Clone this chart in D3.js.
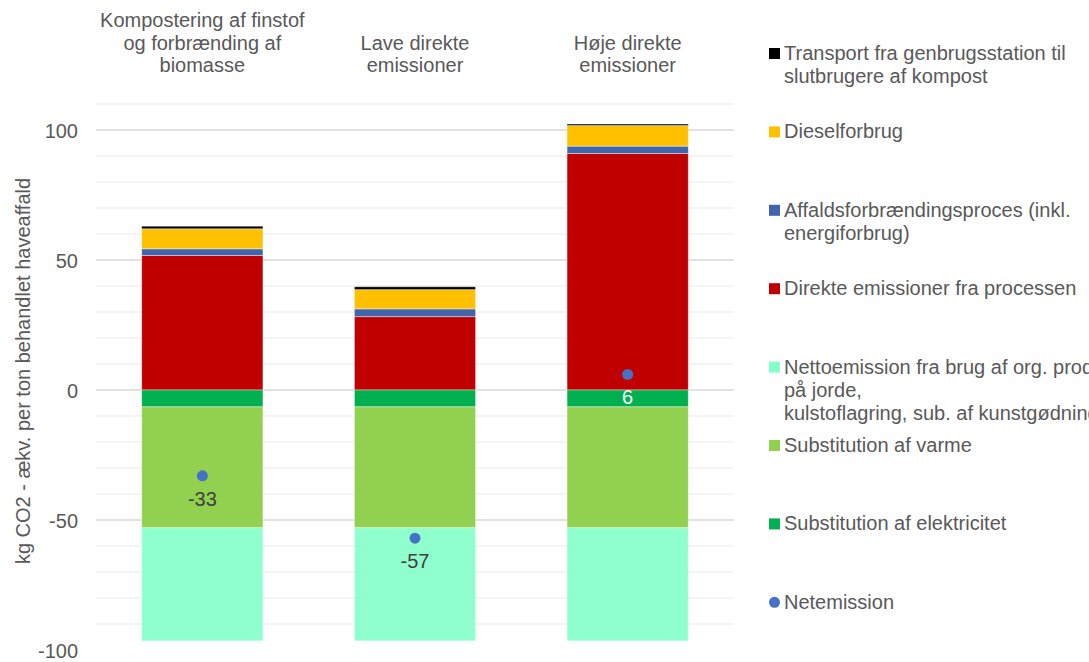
<!DOCTYPE html>
<html>
<head>
<meta charset="utf-8">
<title>Haveaffald - CO2</title>
<style>
    body { margin: 0; background: #ffffff; }
    svg { font-family: "Liberation Sans", Arial, sans-serif; }
    .tick text { fill: #595959; font-size: 20px; }
</style>
</head>
<body>
<script src="https://cdn.jsdelivr.net/npm/d3@7/dist/d3.min.js"></script>
<script>
// categories (lines of each label)
var categories = ["komp", "lave", "hoje"];
var categoryLines = [
    ["Kompostering af finstof", "og forbrænding af", "biomasse"],
    ["Lave direkte", "emissioner"],
    ["Høje direkte", "emissioner"]
];

// series, in legend order (top to bottom)
var seriesNames = [
    "Transport fra genbrugsstation til slutbrugere af kompost",
    "Dieselforbrug",
    "Affaldsforbrændingsproces (inkl. energiforbrug)",
    "Direkte emissioner fra processen",
    "Nettoemission fra brug af org. produkter på jorde, kulstoflagring, sub. af kunstgødning",
    "Substitution af varme",
    "Substitution af elektricitet"
];
var legendLines = [
    ["Transport fra genbrugsstation til", "slutbrugere af kompost"],
    ["Dieselforbrug"],
    ["Affaldsforbrændingsproces (inkl.", "energiforbrug)"],
    ["Direkte emissioner fra processen"],
    ["Nettoemission fra brug af org. produkter", "på jorde,", "kulstoflagring, sub. af kunstgødning"],
    ["Substitution af varme"],
    ["Substitution af elektricitet"],
    ["Netemission"]
];
var seriesColors = ["#000000", "#FFC000", "#4165AD", "#C00000", "#84FFC9", "#92D050", "#00B050"];

// values per series, per category
var transport   = [1.0, 1.1, 0.6];
var diesel      = [7.7, 7.4, 7.9];
var affald      = [2.6, 3.0, 2.8];
var direkte     = [51.7, 28.2, 91.0];
var nettoJord   = [-43.5, -43.5, -43.5];
var varme       = [-46.5, -46.5, -46.5];
var elektricitet = [-6.5, -6.5, -6.5];
var netemission = [-33, -57, 6];

var yTicks = [100, 50, 0, -50, -100];

var width = 1089, height = 662;
var svg = d3.select("body").append("svg")
    .attr("width", width)
    .attr("height", height);

var x = d3.scaleBand().domain(categories).range([96, 734]).paddingInner(0.43).paddingOuter(0.215);
var y = d3.scaleLinear().domain([-100, 110]).range([650, 104]);
var plotBottom = 644;

// gridlines (minor each 10, major each 50)
var grid = d3.range(-90, 111, 10);
svg.append("g").selectAll("line").data(grid).enter().append("line")
    .attr("x1", 96).attr("x2", 734)
    .attr("y1", function(d) { return y(d); })
    .attr("y2", function(d) { return y(d); })
    .attr("stroke", function(d) { return d % 50 === 0 ? "#d9d9d9" : "#f0f0f0"; })
    .attr("stroke-width", 1.3);

// y axis (labels only)
var yAxis = svg.append("g")
    .attr("transform", "translate(80,0)")
    .call(d3.axisLeft(y).tickValues(yTicks).tickSize(0).tickPadding(2)
        .tickFormat(function(d) { return String(d); }));
yAxis.select(".domain").remove();
yAxis.selectAll("text").attr("dy", "0.35em");

svg.append("text")
    .attr("transform", "translate(30,371) rotate(-90)")
    .attr("text-anchor", "middle")
    .attr("fill", "#595959")
    .style("font-size", "20px")
    .text("kg CO2 - ækv. per ton behandlet haveaffald");

// stack positives up from 0, negatives down from 0
var table = categories.map(function(c, i) {
    return {
        cat: c,
        values: [transport[i], diesel[i], affald[i], direkte[i], nettoJord[i], varme[i], elektricitet[i]]
    };
});
// stacking order from zero outwards
var stackOrder = [3, 2, 1, 0, 6, 5, 4];
var segments = [];
table.forEach(function(row) {
    var pos = 0, neg = 0;
    stackOrder.forEach(function(s) {
        var v = row.values[s];
        if (v >= 0) { segments.push({cat: row.cat, s: s, y0: pos, y1: pos + v}); pos += v; }
        else { segments.push({cat: row.cat, s: s, y0: neg + v, y1: neg}); neg += v; }
    });
});

svg.append("g").selectAll("rect").data(segments).enter().append("rect")
    .attr("x", function(d) { return x(d.cat); })
    .attr("width", x.bandwidth())
    .attr("y", function(d) { return y(d.y1); })
    .attr("height", function(d) { return Math.min(y(d.y0), plotBottom) - y(d.y1); })
    .attr("fill", function(d) { return seriesColors[d.s]; })
    .attr("fill-opacity", function(d) { return d.s === 4 ? 0.9 : 1; })
    .attr("stroke", "#ffffff")
    .attr("stroke-opacity", 0.5)
    .attr("stroke-width", 0.8);

// category labels on top
categories.forEach(function(c, i) {
    var lines = categoryLines[i];
    var t = svg.append("text")
        .attr("text-anchor", "middle")
        .attr("fill", "#595959")
        .style("font-size", "20px");
    lines.forEach(function(l, j) {
        t.append("tspan")
            .attr("x", x(c) + x.bandwidth() / 2)
            .attr("y", 72 - (lines.length - 1 - j) * 22.5)
            .text(l);
    });
});

// net emission dots and labels
svg.append("g").selectAll("circle").data(netemission).enter().append("circle")
    .attr("cx", function(d, i) { return x(categories[i]) + x.bandwidth() / 2; })
    .attr("cy", function(d) { return y(d); })
    .attr("r", 5.5)
    .attr("fill", "#4472C4");

svg.append("g").selectAll("text").data(netemission).enter().append("text")
    .attr("x", function(d, i) { return x(categories[i]) + x.bandwidth() / 2; })
    .attr("y", function(d) { return y(d) + 30; })
    .attr("text-anchor", "middle")
    .style("font-size", "20px")
    .attr("fill", function(d, i) {
        // white label when it sits on the dark green segment
        var v = y.invert(y(d) + 24);
        return (v < 0 && v > elektricitet[i]) ? "#ffffff" : "#404040";
    })
    .text(function(d) { return d; });

// legend
var legend = svg.append("g");
legendLines.forEach(function(lines, i) {
    var base = 60 + i * 78.4;
    if (i < seriesColors.length) {
        legend.append("rect")
            .attr("x", 769).attr("y", base - 12)
            .attr("width", 11).attr("height", 11)
            .attr("fill", seriesColors[i]);
    } else {
        legend.append("circle")
            .attr("cx", 774.5).attr("cy", base - 6.5).attr("r", 5.5)
            .attr("fill", "#4472C4");
    }
    var t = legend.append("text")
        .attr("fill", "#595959")
        .style("font-size", "20px");
    lines.forEach(function(l, j) {
        t.append("tspan")
            .attr("x", 784)
            .attr("y", base + j * 23)
            .text(l);
    });
});
</script>
</body>
</html>
